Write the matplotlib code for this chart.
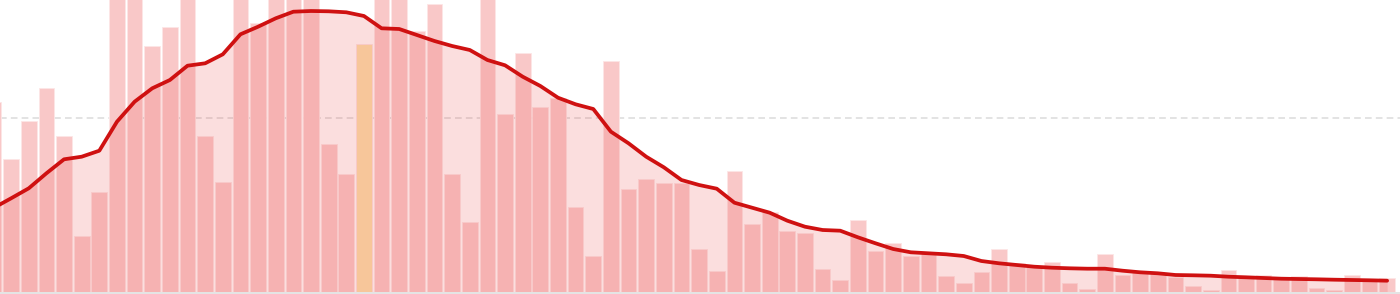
import matplotlib
matplotlib.use("Agg")
import matplotlib.pyplot as plt
import numpy as np


# bar heights, first bar is cut off at the left edge
counts = [190, 132.7, 170.7, 204, 156, 56.3, 100, 305, 318, 245.7,
          265, 300, 156, 110, 312, 268.7, 325, 330, 302, 147.7,
          118, 248.3, 320, 298, 261, 288, 118, 69.7, 310, 178,
          239.3, 185, 193.7, 84.7, 36.3, 231, 103.3, 113.3, 109, 109,
          43.3, 20.7, 121.3, 68, 80.3, 61, 59.3, 22.7, 12, 72,
          40.7, 49.3, 36.3, 40.3, 16, 9, 19.7, 43, 29.3, 26.5,
          30, 9, 3.3, 37.7, 17, 20.3, 18.7, 15.3, 6, 2.3,
          22, 16, 16.7, 14.3, 15.7, 4, 2.3, 17, 12.7, 13.7]

# smoothed curve, one value per bar
smooth = [84, 93.7, 103.7, 118.7, 132.7, 135.3, 141.3, 170.3, 190.3, 203.7,
          212, 226.3, 228.7, 237.7, 257.7, 265.3, 273.7, 280.3, 281, 280.7,
          279.7, 276, 263.7, 263, 257, 251, 246, 242, 232, 226.7,
          215.3, 206, 194.3, 187.7, 183, 160.3, 148.7, 135.3, 124.7, 112,
          107, 103.3, 89.3, 84.3, 79.3, 71.3, 65.3, 62, 61.3, 54.7,
          48.7, 43, 39.7, 38.7, 37.7, 36, 31, 28.7, 27, 25.3,
          24.3, 23.7, 23.3, 23.3, 21.3, 19.7, 18.7, 17, 16.7, 16.3,
          15.3, 14.7, 14, 13.3, 13, 12.7, 12.3, 12, 11.7, 11.3]

highlight = 21
ref_level = 174

x = np.arange(len(counts))
colors = ['#f9c8c8'] * len(counts)
colors[highlight] = '#fbe2ab'

fig = plt.figure(figsize=(14, 2.94), dpi=100)
ax = fig.add_axes([0, 0, 1, 1])

ax.axhline(ref_level, color='#dedede', lw=1.2, dashes=(4, 2.5), zorder=1)
ax.bar(x, counts, width=0.89, color=colors, edgecolor='#fde6e6', linewidth=0.6, zorder=2)
ax.fill_between(x, smooth, 0, color='#eb5a5a', alpha=0.2, linewidth=0, zorder=3)
ax.plot(x, smooth, color='#cf1111', lw=2.7, solid_joinstyle='round',
        solid_capstyle='round', zorder=4)
ax.axhline(-1, color='#e4e4e4', lw=1.44, zorder=5)

ax.set_xlim(0.37, 79.73)
ax.set_ylim(-2, 292)
ax.axis('off')

fig.savefig('out.png', dpi=100)
